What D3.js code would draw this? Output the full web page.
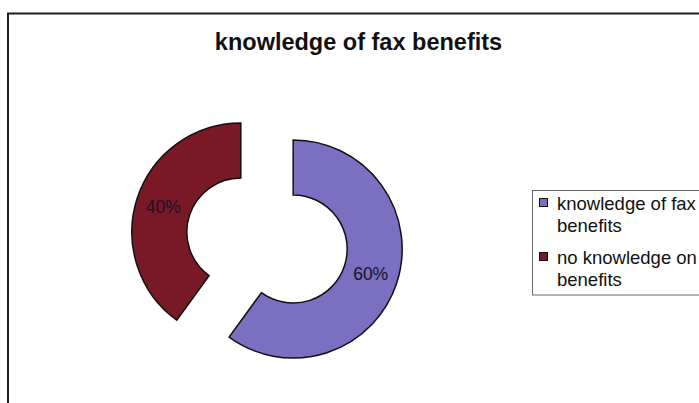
<!DOCTYPE html>
<html>
<head>
<meta charset="utf-8">
<script src="https://cdn.jsdelivr.net/npm/d3@7"></script>
<style>
  html, body { margin: 0; padding: 0; background: #fff; }
  svg { display: block; }
  text { font-family: "Liberation Sans", Arial, Helvetica, sans-serif; }
</style>
</head>
<body>
<svg id="chart" width="699" height="403"></svg>
<script>
// Chart data
const title = "knowledge of fax benefits";
const categories = ["knowledge of fax benefits", "no knowledge on benefits"];
const values = [60, 40];
const colors = ["#7a6fc1", "#7a1926"];

const svg = d3.select("#chart");

// Outer chart frame (runs off the right and bottom edges)
svg.append("rect")
  .attr("x", 8).attr("y", 13.5)
  .attr("width", 720).attr("height", 430)
  .attr("fill", "#fff")
  .attr("stroke", "#1e1e1e")
  .attr("stroke-width", 2);

// Title
svg.append("text")
  .attr("x", 358.5).attr("y", 49.5)
  .attr("text-anchor", "middle")
  .attr("font-size", 23.5)
  .attr("font-weight", "bold")
  .attr("fill", "#111")
  .text(title);

// Exploded doughnut
const cx = 267, cy = 240.5;
const outerR = 109, innerR = 54, explode = 27.5;

const pie = d3.pie().sort(null).value(d => d).startAngle(0).endAngle(2 * Math.PI);
const arc = d3.arc().innerRadius(innerR).outerRadius(outerR);
const arcs = pie(values);
const total = d3.sum(values);

const g = svg.append("g").attr("transform", `translate(${cx},${cy})`);

const slice = g.selectAll("g.slice")
  .data(arcs)
  .join("g")
  .attr("class", "slice")
  .attr("transform", d => {
    const mid = (d.startAngle + d.endAngle) / 2;
    return `translate(${explode * Math.sin(mid)},${-explode * Math.cos(mid)})`;
  });

slice.append("path")
  .attr("d", arc)
  .attr("fill", (d, i) => colors[i])
  .attr("stroke", "#111")
  .attr("stroke-width", 1.5)
  .attr("stroke-linejoin", "miter");

slice.append("text")
  .attr("transform", d => `translate(${arc.centroid(d)})`)
  .attr("text-anchor", "middle")
  .attr("dy", "0.36em")
  .attr("font-size", 17.5)
  .attr("fill", "#141428")
  .text(d => Math.round(d.data / total * 100) + "%");

// Legend
const legend = svg.append("g");
legend.append("rect")
  .attr("x", 532.5).attr("y", 190.5)
  .attr("width", 200).attr("height", 104.5)
  .attr("fill", "#fff")
  .attr("stroke", "#666")
  .attr("stroke-width", 1);

const maxTextWidth = 150;
const lineHeight = 22;
const itemTops = [209.5, 263.5];

categories.forEach((name, i) => {
  legend.append("rect")
    .attr("x", 539.5).attr("y", itemTops[i] - 11)
    .attr("width", 8).attr("height", 8)
    .attr("fill", colors[i])
    .attr("stroke", "#111")
    .attr("stroke-width", 1);

  const t = legend.append("text")
    .attr("x", 557).attr("y", itemTops[i])
    .attr("font-size", 18.5)
    .attr("fill", "#111");

  // simple word wrap inside the legend box
  const words = name.split(" ");
  let line = [];
  let tspan = t.append("tspan").attr("x", 557).attr("dy", 0);
  words.forEach(w => {
    line.push(w);
    tspan.text(line.join(" "));
    if (tspan.node().getComputedTextLength() > maxTextWidth && line.length > 1) {
      line.pop();
      tspan.text(line.join(" "));
      line = [w];
      tspan = t.append("tspan").attr("x", 557).attr("dy", lineHeight).text(w);
    }
  });
});
</script>
</body>
</html>
